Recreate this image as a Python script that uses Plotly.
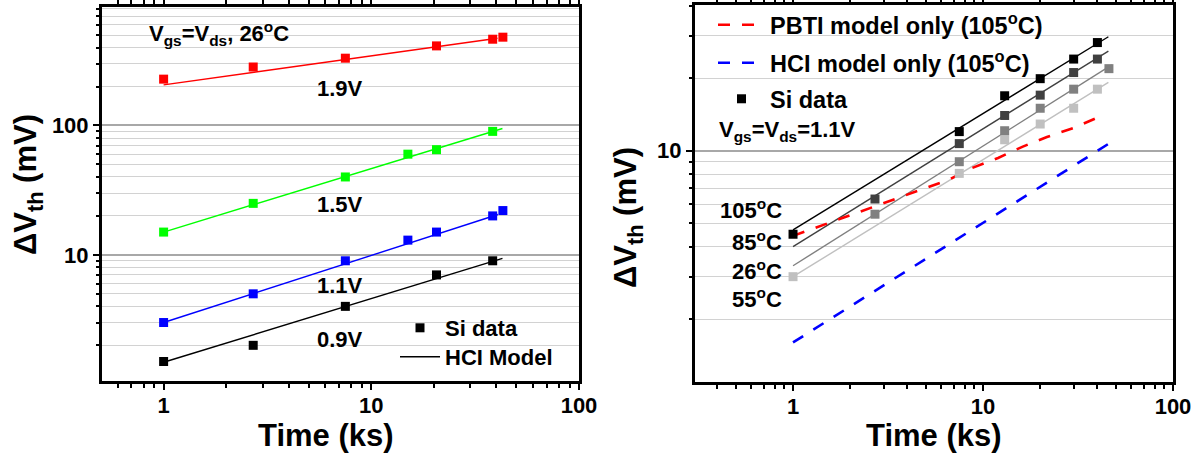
import math
import plotly.graph_objects as go

# ---------------- Left panel data (Vgs=Vds, 26C) ----------------
t_19 = [1, 2.7, 7.5, 20.6, 38.4, 43]
v_19 = [228, 283, 331, 412, 464, 481]
t_15 = [1, 2.7, 7.5, 15, 20.6, 38.4]
v_15 = [15, 25, 40, 60, 65, 90]
t_11 = [1, 2.7, 7.5, 15, 20.6, 38.4, 43]
v_11 = [3, 5, 9, 13, 15, 20, 22]
t_09 = [1, 2.7, 7.5, 20.6, 38.4]
v_09 = [1.5, 2, 4, 7, 9]

# HCI model lines (end points)
m19_t = [1, 40.5]
m19_v = [206, 472]
m15_t = [1, 42.8]
m15_v = [15, 94.8]
m11_t = [1, 40.7]
m11_v = [3.0, 20.5]
m09_t = [1, 42.8]
m09_v = [1.48, 9.4]

# ---------------- Right panel data (Vgs=Vds=1.1V) ----------------
t_a = [1, 7.5, 13, 20, 30, 40]
v_a = [4.5, 12, 16.9, 19.9, 24, 28.1]
t_b = [2.7, 7.5, 13, 20, 30, 40]
v_b = [6.3, 10.7, 14, 17, 21.1, 24]
t_c = [2.7, 7.5, 13, 20, 30, 46]
v_c = [5.45, 9, 12.1, 15, 18, 21.9]
t_d = [1, 7.5, 13, 20, 30, 40]
v_d = [3.0, 8.05, 11.1, 12.9, 15, 18]

fa_t = [1, 45.7]
fa_v = [4.69, 29.7]
fb_t = [1, 45.7]
fb_v = [4.0, 25.9]
fc_t = [1, 47.6]
fc_v = [3.33, 22.7]
fd_t = [1, 45.7]
fd_v = [3.0, 19.2]

pbti_t = [1, 2.67, 3.66, 6.54, 8.75, 12, 16.2, 21.7, 29.8, 39.8]
pbti_v = [4.43, 5.83, 6.41, 7.55, 8.47, 9.33, 10.4, 11.4, 12.4, 13.7]
hci_t = [1, 49.5]
hci_v = [1.6, 11.1]

x_tickvals = [1, 10, 100]
x_ticktext = ["1", "10", "100"]
yl_tickvals = [10, 100]
yr_tickvals = [10]

W, H = 1200, 455

def minors(lo, hi):
    out = []
    for e in range(lo, hi + 1):
        for m in range(2, 10):
            out.append(m * 10 ** e)
    return out

fig = go.Figure()
MS = 9

def data_trace(t, v, color, xa, ya, name="", legend=None):
    return go.Scatter(x=t, y=v, mode="markers", xaxis=xa, yaxis=ya,
                      marker=dict(symbol="square", size=MS, color=color),
                      name=name, showlegend=legend is not None,
                      legend=legend if legend else "legend")

def line_trace(t, v, color, xa, ya, width=1.4, dash="solid", name="", legend=None):
    return go.Scatter(x=t, y=v, mode="lines", xaxis=xa, yaxis=ya,
                      line=dict(color=color, width=width, dash=dash),
                      name=name, showlegend=legend is not None,
                      legend=legend if legend else "legend")

# left
fig.add_trace(line_trace(m19_t, m19_v, "#ff0000", "x", "y"))
fig.add_trace(line_trace(m15_t, m15_v, "#00ff00", "x", "y"))
fig.add_trace(line_trace(m11_t, m11_v, "#0000ff", "x", "y"))
fig.add_trace(line_trace(m09_t, m09_v, "#000000", "x", "y", name="HCI Model", legend="legend2"))
fig.add_trace(data_trace(t_19, v_19, "#ff0000", "x", "y"))
fig.add_trace(data_trace(t_15, v_15, "#00ff00", "x", "y"))
fig.add_trace(data_trace(t_11, v_11, "#0000ff", "x", "y"))
fig.add_trace(data_trace(t_09, v_09, "#000000", "x", "y", name="Si data", legend="legend"))

# right
fig.add_trace(line_trace(hci_t, hci_v, "#0000ff", "x2", "y2", width=2.6, dash="12px,12px",
                         name="HCI model only (105<sup>o</sup>C)", legend="legend4"))
fig.add_trace(line_trace(fd_t, fd_v, "#c0c0c0", "x2", "y2"))
fig.add_trace(line_trace(fc_t, fc_v, "#808080", "x2", "y2"))
fig.add_trace(line_trace(fb_t, fb_v, "#404040", "x2", "y2"))
fig.add_trace(line_trace(fa_t, fa_v, "#000000", "x2", "y2"))
fig.add_trace(line_trace(pbti_t, pbti_v, "#ff0000", "x2", "y2", width=2.6, dash="12px,12px",
                         name="PBTI model only (105<sup>o</sup>C)", legend="legend3"))
fig.add_trace(data_trace(t_d, v_d, "#c0c0c0", "x2", "y2"))
fig.add_trace(data_trace(t_c, v_c, "#808080", "x2", "y2"))
fig.add_trace(data_trace(t_b, v_b, "#404040", "x2", "y2"))
fig.add_trace(data_trace(t_a, v_a, "#000000", "x2", "y2", name="Si data", legend="legend5"))

def px_x(p):
    return p / W

def px_y(p):
    return 1 - p / H

TICKF = dict(family="Liberation Sans, Arial", size=22, color="black", weight="bold")

def xaxis(domain, rng, anchor):
    return dict(type="log", domain=domain, range=rng, anchor=anchor, automargin=False,
                tickvals=x_tickvals, ticktext=x_ticktext, ticklabelstandoff=-3,
                showline=True, linewidth=3, linecolor="black", mirror="ticks",
                ticks="outside", ticklen=6, tickwidth=2, tickcolor="black",
                showgrid=False, zeroline=False, tickfont=TICKF,
                minor=dict(tickvals=minors(-1, 1), ticks="outside", ticklen=4,
                           tickwidth=1.5, tickcolor="black", showgrid=False))

def yaxis(domain, rng, anchor, tickvals):
    return dict(type="log", domain=domain, range=rng, anchor=anchor, automargin=False,
                tickvals=tickvals, ticktext=[str(v) for v in tickvals],
                showline=True, linewidth=3, linecolor="black", mirror=True,
                ticks="outside", ticklen=6, tickwidth=2, tickcolor="black",
                showgrid=True, gridcolor="#a8a8a8", gridwidth=1.6,
                zeroline=False, tickfont=TICKF,
                minor=dict(tickvals=minors(0, 2), ticks="outside", ticklen=3,
                           tickwidth=1.5, tickcolor="black", showgrid=True,
                           gridcolor="#d2d2d2", gridwidth=1.3))

fig.update_layout(
    width=W, height=H, autosize=False,
    margin=dict(l=0, r=0, t=0, b=0, pad=0, autoexpand=False),
    paper_bgcolor="white", plot_bgcolor="white",
    font=dict(family="Liberation Sans, Arial", size=21, color="black", weight="bold"),
    xaxis=xaxis([px_x(102), px_x(579)], [math.log10(0.505), 2], "y"),
    yaxis=yaxis([px_y(381), px_y(7)], [math.log10(1.06), math.log10(823)], "x", yl_tickvals),
    xaxis2=xaxis([px_x(695), px_x(1173)], [-0.516, 2], "y2"),
    yaxis2=yaxis([px_y(382), px_y(5)], [0.040, 1.6046], "x2", yr_tickvals),
)

LEG = dict(bgcolor="rgba(0,0,0,0)", borderwidth=0, xanchor="left", yanchor="middle",
           font=dict(size=22), itemwidth=40)
fig.update_layout(
    legend=dict(LEG, x=px_x(395), y=px_y(328)),
    legend2=dict(LEG, x=px_x(395), y=px_y(357)),
    legend3=dict(LEG, x=px_x(713), y=px_y(25), font=dict(size=23.5), itemwidth=47),
    legend4=dict(LEG, x=px_x(713), y=px_y(63), font=dict(size=23.5), itemwidth=47),
    legend5=dict(LEG, x=px_x(713), y=px_y(99), font=dict(size=23.5), itemwidth=47),
)

def ann(text, x, y, xanchor="center", size=21, angle=0):
    fig.add_annotation(text=text, x=px_x(x), y=px_y(y), xref="paper", yref="paper",
                       xanchor=xanchor, yanchor="middle", showarrow=False,
                       textangle=angle, font=dict(size=size))

# left annotations
ann("V<sub>gs</sub>=V<sub>ds</sub>, 26<sup>o</sup>C", 147, 34, xanchor="left", size=22)
ann("1.9V", 340, 89, size=22)
ann("1.5V", 340, 205, size=22)
ann("1.1V", 340, 285, size=22)
ann("0.9V", 340, 339, size=22)
# right annotations
ann("V<sub>gs</sub>=V<sub>ds</sub>=1.1V", 717, 131, xanchor="left", size=22)
ann("105<sup>o</sup>C", 784, 209, xanchor="right", size=22)
ann("85<sup>o</sup>C", 784, 241, xanchor="right", size=22)
ann("26<sup>o</sup>C", 784, 270, xanchor="right", size=22)
ann("55<sup>o</sup>C", 784, 298, xanchor="right", size=22)

# axis titles
ann("Time (ks)", 326, 435, size=31)
ann("Time (ks)", 934, 435, size=31)
ann("\u0394V<sub>th</sub> (mV)", 28, 185, size=31, angle=-90)
ann("\u0394V<sub>th</sub> (mV)", 628, 218, size=31, angle=-90)

fig.write_html("out.html")
